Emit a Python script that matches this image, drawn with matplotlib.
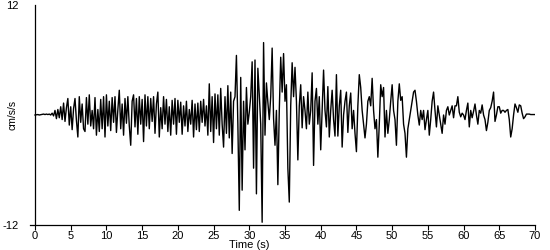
import numpy as np
import matplotlib
matplotlib.use("Agg")
import matplotlib.pyplot as plt

plt.rcParams['font.family'] = ['Liberation Sans', 'DejaVu Sans']

# Acceleration (cm/s/s), one row per second, samples every 0.2 s
dt = 0.2
accel_rows = [
    [0.0, 0.02, 0.05, 0.0, 0.03],      # 0 s
    [0.05, 0.1, 0.05, 0.1, 0.05],      # 1
    [0.1, 0.0, 0.2, -0.1, 0.5],        # 2
    [-0.4, 0.6, -0.3, 0.9, -0.5],      # 3
    [1.3, -0.7, 0.8, 1.8, -1.1],       # 4
    [0.9, -1.6, 0.7, 1.8, -0.6],       # 5
    [-2.4, 2.0, -0.8, 1.2, -1.5],      # 6
    [-1.8, 1.9, -1.0, 2.2, -1.2],      # 7
    [0.5, -1.5, 1.9, -2.2, 0.6],       # 8
    [-1.8, 1.7, -1.5, 2.0, -2.4],      # 9
    [2.2, -1.2, 1.5, -1.7, 1.9],       # 10
    [-0.8, 2.0, -1.9, 0.6, 2.7],       # 11
    [-1.5, 1.2, -2.2, 1.8, -0.9],      # 12
    [2.0, -1.2, -3.3, 1.5, 2.2],       # 13
    [-1.3, 1.8, -2.1, 2.0, -1.0],      # 14
    [1.7, -2.9, 2.2, -1.2, 2.0],       # 15
    [-1.5, 1.8, -0.7, 2.0, -2.0],      # 16
    [1.2, 2.5, -2.4, 0.8, -1.5],       # 17
    [2.0, -1.0, 1.7, -1.8, 0.9],       # 18
    [-2.2, 1.6, -1.0, 1.8, -2.1],      # 19
    [1.6, -0.8, 1.4, -2.1, 1.0],       # 20
    [-1.2, 1.5, -1.8, 0.6, -1.0],      # 21
    [1.6, -2.4, 1.2, -1.6, 1.3],       # 22
    [-1.8, 1.5, -0.8, 1.7, -1.2],      # 23
    [1.0, -2.2, 3.4, -1.8, 2.0],       # 24
    [-3.0, 2.3, -1.5, 2.2, -2.2],      # 25
    [2.9, -1.0, -3.5, 2.0, -2.0],      # 26
    [3.2, -2.5, 2.5, -4.2, 1.5],       # 27
    [2.0, 6.5, -1.0, -10.4, 4.1],      # 28
    [-8.2, 1.5, -3.8, 3.0, -1.0],      # 29
    [0.3, 2.0, 5.8, -5.8, 6.0],        # 30
    [-8.6, 5.1, 2.2, -1.0, -11.7],     # 31
    [7.9, -2.2, 3.5, 1.4, -0.5],       # 32
    [2.0, 7.3, -0.4, -3.3, 0.5],       # 33
    [-7.6, 0.5, 6.3, 2.5, 6.7],        # 34
    [1.5, 3.3, -5.8, -9.5, 1.0],       # 35
    [5.7, 2.0, 5.2, 1.5, -4.9],        # 36
    [1.0, 3.3, -1.4, 2.0, 0.5],        # 37
    [-1.5, 2.5, -1.0, 0.5, 4.6],       # 38
    [-5.5, 1.5, 2.9, -1.0, 2.0],       # 39
    [-3.8, 0.5, 4.9, 0.5, -1.3],       # 40
    [3.1, -2.4, 0.5, 2.7, -0.5],       # 41
    [-2.3, 4.4, -2.3, 1.0, 2.7],       # 42
    [-3.5, 0.0, 1.5, 2.5, -1.9],       # 43
    [1.0, 2.4, -1.5, 0.5, -2.0],       # 44
    [-4.0, 1.0, 4.4, 3.0, 0.5],        # 45
    [-1.0, -2.5, -1.0, 1.5, 2.0],      # 46
    [1.0, 4.0, 0.5, -1.5, -0.5],       # 47
    [-4.6, -1.0, 3.3, 2.0, 3.0],       # 48
    [-2.4, 0.5, -2.0, -0.5, 1.5],      # 49
    [3.3, 0.5, -0.5, -3.3, 1.5],       # 50
    [3.4, 1.6, 2.0, -1.0, -2.0],       # 51
    [-4.6, -1.5, -0.5, 0.5, 1.5],      # 52
    [2.5, 2.7, 1.5, 0.0, -1.1],        # 53
    [0.5, -0.5, 0.5, -1.6, -0.5],      # 54
    [0.5, -2.2, -0.5, 1.5, 2.5],       # 55
    [0.5, -1.3, 1.0, 0.0, -1.0],       # 56
    [-2.0, 0.0, -1.0, 0.5, 0.9],       # 57
    [0.0, 0.5, 1.0, -0.3, 1.0],        # 58
    [1.0, 2.0, 0.3, -0.2, 0.2],        # 59
    [0.0, -0.5, 0.5, 1.3, -1.3],       # 60
    [0.5, -0.3, 0.4, 1.2, 0.0],        # 61
    [-1.0, 0.5, 0.2, 1.1, 0.0],        # 62
    [-0.5, -1.7, -0.8, 0.5, 0.8],      # 63
    [1.5, 2.5, -0.7, 0.0, 0.9],        # 64
    [0.9, 0.2, 0.5, 0.5, 0.3],         # 65
    [0.5, 0.6, -0.5, -2.4, -1.5],      # 66
    [0.0, 1.2, 0.8, 0.3, 1.1],         # 67
    [1.0, 0.2, -0.4, -0.2, 0.1],       # 68
    [0.1, 0.1, 0.05, 0.05, 0.05],      # 69
    [0.05],                            # 70
]
accel = [v for row in accel_rows for v in row]
time = [i * dt for i in range(len(accel))]

x_ticks = [0, 5, 10, 15, 20, 25, 30, 35, 40, 45, 50, 55, 60, 65, 70]
y_ticks = [-12, 12]

fig = plt.figure(figsize=(5.5, 2.5), dpi=100)
ax = fig.add_axes([30 / 550, 25 / 250, 505 / 550, 220 / 250])
ax.plot(time, accel, color='black', linewidth=1.0)

ax.set_xlim(-0.7, 70)
ax.set_ylim(-12, 12)
ax.spines['top'].set_visible(False)
ax.spines['right'].set_visible(False)
ax.spines['left'].set_position(('data', 0))
for s in ('left', 'bottom'):
    ax.spines[s].set_linewidth(0.9)
ax.set_xticks(x_ticks)
ax.set_xticklabels([str(t) for t in x_ticks], fontsize=8)
ax.set_yticks(y_ticks)
ax.set_yticklabels([str(t) for t in y_ticks], fontsize=8)
ax.tick_params(axis='x', direction='out', length=3.5, width=0.8, pad=1)
ax.tick_params(axis='y', length=0, pad=12)

fig.text(249 / 550, 1 - 245 / 250, 'Time (s)', fontsize=8, ha='center', va='center')
fig.text(13 / 550, 1 - 115 / 250, 'cm/s/s', fontsize=7.5, rotation=90,
         ha='center', va='center')

fig.savefig('out.png', dpi=100)
